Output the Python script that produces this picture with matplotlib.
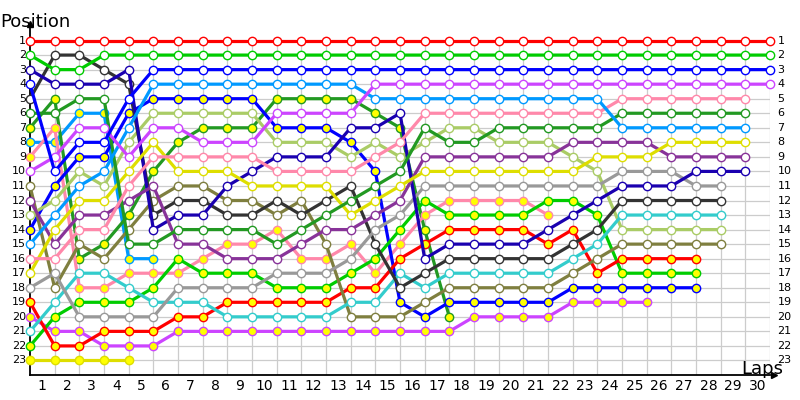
#!/usr/bin/env python
# Grafico de vueltas: posicion de cada piloto en cada vuelta
import matplotlib
matplotlib.use('Agg')
import matplotlib.pyplot as plt

# Posiciones por vuelta (indice 0 = parrilla de salida)
rojo = [1, 1, 1, 1, 1, 1, 1, 1, 1, 1, 1, 1, 1, 1, 1, 1, 1, 1, 1, 1,
        1, 1, 1, 1, 1, 1, 1, 1, 1, 1, 1]
verde = [2, 3, 3, 2, 2, 2, 2, 2, 2, 2, 2, 2, 2, 2, 2, 2, 2, 2, 2, 2,
         2, 2, 2, 2, 2, 2, 2, 2, 2, 2, 2]
azul = [4, 10, 8, 8, 5, 3, 3, 3, 3, 3, 3, 3, 3, 3, 3, 3, 3, 3, 3, 3,
        3, 3, 3, 3, 3, 3, 3, 3, 3, 3, 3]
violeta = [10, 9, 7, 7, 9, 7, 7, 8, 8, 8, 6, 6, 6, 6, 4, 4, 4, 4, 4, 4,
           4, 4, 4, 4, 4, 4, 4, 4, 4, 4, 4]
celeste = [15, 13, 11, 10, 7, 4, 4, 4, 4, 4, 4, 4, 4, 4, 5, 5, 5, 5, 5, 5,
           5, 5, 5, 5, 7, 7, 7, 7, 7, 7]
rosa = [16, 16, 14, 14, 11, 9, 9, 9, 9, 9, 10, 10, 10, 10, 9, 8, 6, 6, 6, 6,
        6, 6, 6, 6, 5, 5, 5, 5, 5, 5]
bosque = [6, 6, 5, 5, 15, 15, 14, 14, 14, 14, 15, 14, 13, 12, 11, 10, 7, 8, 8, 7,
          7, 7, 7, 7, 6, 6, 6, 6, 6, 6]
amarillo = [17, 14, 12, 12, 10, 8, 10, 10, 10, 11, 11, 11, 11, 13, 12, 11, 10, 10, 10, 10,
            10, 10, 10, 9, 9, 9, 8, 8, 8, 8]
morado = [12, 15, 13, 13, 12, 11, 15, 15, 16, 16, 16, 15, 14, 14, 13, 12, 9, 9, 9, 9,
          9, 9, 8, 8, 8, 8, 9, 9, 9, 9]
indigo = [3, 4, 4, 4, 3, 14, 13, 13, 11, 10, 9, 9, 9, 7, 7, 6, 16, 15, 15, 15,
          15, 14, 13, 12, 11, 11, 11, 10, 10, 10]
gris = [18, 17, 20, 20, 20, 20, 18, 18, 18, 18, 17, 17, 17, 16, 14, 13, 11, 11, 11, 11,
        11, 11, 11, 11, 10, 10, 10, 11, 11]
negro = [5, 2, 2, 3, 4, 13, 12, 12, 13, 13, 12, 13, 12, 11, 15, 18, 17, 16, 16, 16,
         16, 16, 15, 14, 12, 12, 12, 12, 12]
cian = [21, 19, 17, 17, 18, 19, 19, 19, 20, 20, 20, 20, 20, 19, 19, 17, 18, 17, 17, 17,
        17, 17, 16, 15, 13, 13, 13, 13, 13]
oliva_claro = [13, 12, 10, 11, 8, 6, 6, 6, 6, 6, 8, 8, 8, 9, 8, 9, 8, 7, 7, 8,
               8, 8, 9, 10, 14, 14, 14, 14, 14]
oliva = [11, 18, 15, 16, 14, 12, 11, 11, 12, 12, 13, 12, 15, 20, 20, 20, 19, 18, 18, 18,
         18, 18, 17, 16, 15, 15, 15, 15, 15]
rojo2 = [19, 22, 22, 21, 21, 21, 20, 20, 19, 19, 19, 19, 19, 18, 18, 16, 15, 14, 14, 14,
         14, 15, 14, 17, 16, 16, 16, 16]
verde2 = [22, 20, 19, 19, 19, 18, 16, 17, 17, 17, 18, 18, 18, 17, 16, 14, 12, 13, 13, 13,
          13, 12, 12, 13, 17, 17, 17, 17]
azul2 = [14, 11, 9, 9, 6, 5, 5, 5, 5, 5, 7, 7, 7, 8, 10, 19, 20, 19, 19, 19,
         19, 19, 18, 18, 18, 18, 18, 18]
violeta2 = [20, 21, 21, 22, 22, 22, 21, 21, 21, 21, 21, 21, 21, 21, 21, 21, 21, 21, 20, 20,
            20, 20, 19, 19, 19, 19]
rosa2 = [9, 7, 18, 18, 17, 17, 17, 16, 15, 15, 14, 16, 16, 15, 17, 15, 13, 12, 12, 12,
         12, 13]
bosque2 = [7, 5, 16, 15, 13, 10, 8, 7, 7, 7, 5, 5, 5, 5, 6, 7, 14, 20]
celeste2 = [8, 8, 6, 6, 16, 16]
amarillo2 = [23, 23, 23, 23, 23]

n_vueltas = 30
n_posiciones = 23

# (posiciones, color de linea, relleno del marcador)
pilotos = [
    (amarillo2, '#dede00', '#ffff00'),
    (celeste2, '#0099ff', '#ffff00'),
    (bosque2, '#229922', '#ffff00'),
    (rosa2, '#ff88aa', '#ffff00'),
    (violeta2, '#cc44ff', '#ffff00'),
    (azul2, '#0000ff', '#ffff00'),
    (verde2, '#00cc00', '#ffff00'),
    (rojo2, '#ff0000', '#ffff00'),
    (oliva, '#7f7f3f', 'white'),
    (oliva_claro, '#aacc66', 'white'),
    (cian, '#33cccc', 'white'),
    (negro, '#333333', 'white'),
    (gris, '#999999', 'white'),
    (indigo, '#1a00b0', 'white'),
    (morado, '#883399', 'white'),
    (amarillo, '#dede00', 'white'),
    (bosque, '#229922', 'white'),
    (rosa, '#ff88aa', 'white'),
    (celeste, '#0099ff', 'white'),
    (violeta, '#cc44ff', 'white'),
    (azul, '#0000ff', 'white'),
    (verde, '#00cc00', 'white'),
    (rojo, '#ff0000', 'white'),
]

fig = plt.figure(figsize=(8, 4), dpi=100)
ax = fig.add_axes([30 / 800, 25 / 400, 740 / 800, 349 / 400])
ax.set_xlim(0, n_vueltas)
ax.set_ylim(n_posiciones + 1, 0)

# Rejilla
for p in range(1, n_posiciones + 1):
    ax.plot([0, n_vueltas], [p, p], color='#cccccc', lw=0.9, zorder=1)
for v in range(1, n_vueltas + 1):
    ax.plot([v, v], [1, n_posiciones + 1], color='#cccccc', lw=0.9, zorder=1)

# Lineas de cada piloto
for pos, color, relleno in pilotos:
    vueltas = list(range(len(pos)))
    ax.plot(vueltas, pos, color=color, lw=2.3, marker='o', ms=6.0,
            mfc=relleno, mec=color, mew=1.0, clip_on=False, zorder=3)

# Ejes
for lado in ['top', 'right']:
    ax.spines[lado].set_visible(False)
ax.spines['left'].set_linewidth(1.3)
ax.spines['bottom'].set_linewidth(1.3)
ax.set_xticks([])
ax.set_yticks([])

# Etiquetas de posicion a ambos lados
for p in range(1, n_posiciones + 1):
    ax.text(-0.15, p, str(p), ha='right', va='center', fontsize=8, clip_on=False)
    ax.text(n_vueltas + 0.3, p, str(p), ha='left', va='center', fontsize=8,
            clip_on=False)

# Etiquetas de vueltas
for v in range(1, n_vueltas + 1):
    ax.text(v - 0.5, n_posiciones + 1.3, str(v), ha='center', va='top',
            fontsize=10, clip_on=False)

# Flechas y titulos de ejes
ax.plot(0, -0.15, marker='^', ms=5, color='black', clip_on=False, zorder=5)
ax.plot(n_vueltas + 0.15, n_posiciones + 1, marker='>', ms=5, color='black',
        clip_on=False, zorder=5)
fig.text(0 / 800, 1 - 27 / 400, 'Position', fontsize=13, ha='left', va='baseline')
fig.text(783 / 800, 1 - 374 / 400, 'Laps', fontsize=13, ha='right', va='baseline')

plt.savefig('out.png', dpi=100)
